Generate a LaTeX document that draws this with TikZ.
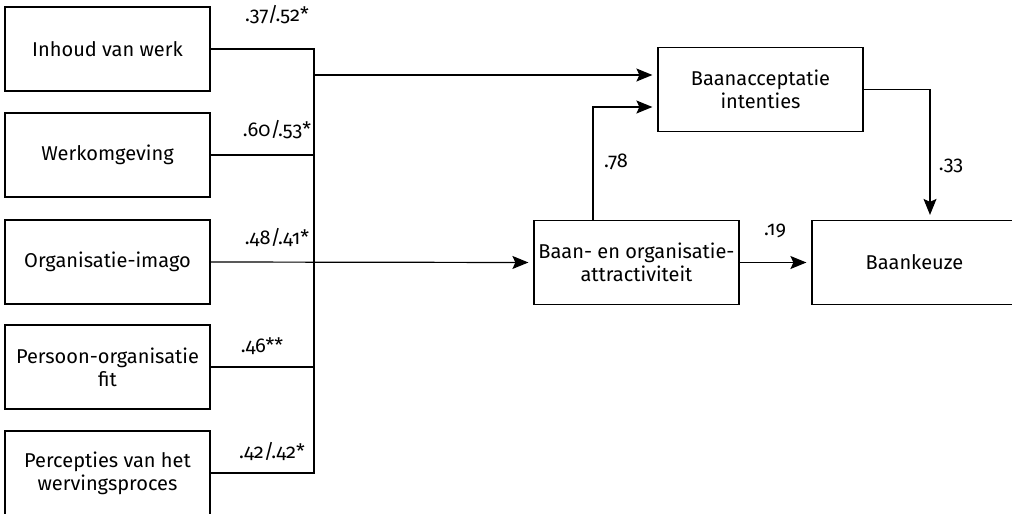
\documentclass[tikz,border=0pt]{standalone}
\usepackage{fontspec}
\setmainfont{Fira Sans}[Numbers=OldStyle]
\usetikzlibrary{arrows.meta, positioning}

\tikzset{
  box/.style = {draw, line width=0.6pt, minimum width=102.5pt, minimum height=42pt, align=center, inner sep=2pt},
  coef/.style = {inner sep=1pt},
}

\begin{document}
\begin{tikzpicture}[x=0.5pt, y=-0.5pt, line width=0.6pt,
    font=\fontsize{10}{11.5}\selectfont,
    >={Stealth[length=8pt, width=6.5pt, inset=1.5pt]}]
    \useasboundingbox (0,0) rectangle (1012,514);
    % predictors
    \node[box] (inhoud) at (107.5, 49) {Inhoud van werk};
    \node[box] (werk) at (107.5, 155) {Werkomgeving};
    \node[box] (imago) at (107.5, 262) {Organisatie-imago};
    \node[box] (pofit) at (107.5, 367) {Persoon-organisatie\\fit};
    \node[box] (werving) at (107.5, 473) {Percepties van het\\wervingsproces};
    % outcomes
    \node[box] (accept) at (760.5, 89.5) {Baanacceptatie\\intenties};
    \node[box] (attract) at (636.5, 262.5) {Baan- en organisatie-\\attractiviteit};
    \node[box] (keuze) at (914.5, 262.5) {Baankeuze};
    % coefficients
    \node[coef] (c1) at (277, 15) {.37/.52*};
    \node[coef] (c2) at (277, 130) {.60/.53*};
    \node[coef] (c3) at (277, 237) {.48/.41*};
    \node[coef] (c4) at (262, 346) {.46**};
    \node[coef] (c5) at (272, 451) {.42/.42*};
    \node[coef] (c6) at (616, 162) {.78};
    \node[coef] (c7) at (775, 231) {.19};
    \node[coef] (c8) at (951, 166) {.33};
    % bus
    \coordinate (bus) at (314, 0);
    \coordinate (in1) at ([yshift=7.25pt]accept.west);
    \coordinate (in2) at ([yshift=-8.75pt]accept.west);
    \draw (inhoud.east) -- (inhoud.east -| bus) -- (werving.east -| bus) -- (werving.east);
    \draw (werk.east) -- (werk.east -| bus);
    \draw (pofit.east) -- (pofit.east -| bus);
    \draw[->, shorten >=2.5pt] (imago.east) -- (attract.west);
    \draw[->, shorten >=2.5pt] (bus |- in1) -- (in1);
    \draw[->, shorten >=2.5pt] ([xshift=-21.75pt]attract.north) |- (in2);
    \draw[->, shorten >=2.5pt] (attract.east) -- (keuze.west);
    \draw[->, shorten >=2.5pt] (accept.east) -| ([xshift=7.75pt]keuze.north);
\end{tikzpicture}
\end{document}
